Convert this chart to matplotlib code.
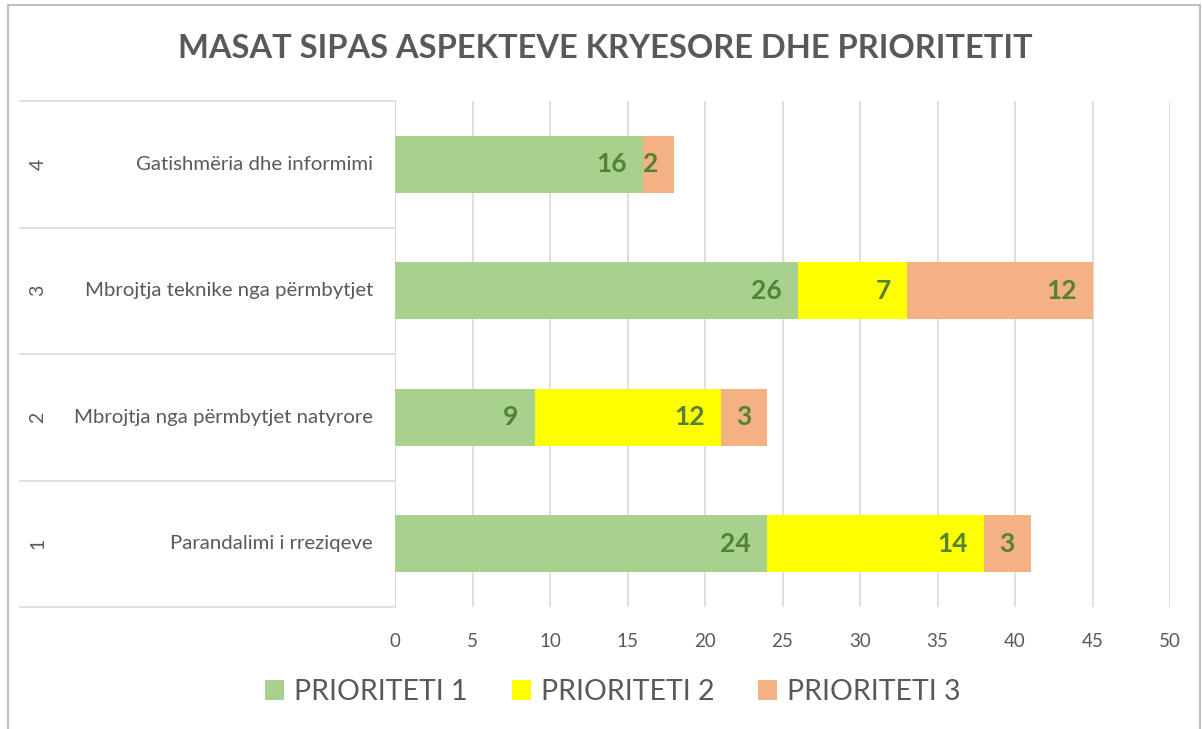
import matplotlib.pyplot as plt
import matplotlib.transforms as mtransforms
from matplotlib.patches import Rectangle, Patch

plt.rcParams['font.family'] = ['Lato', 'DejaVu Sans']

# datos del grafico
grupos = ["1", "2", "3", "4"]
aspektet = ["Parandalimi i rreziqeve", "Mbrojtja nga përmbytjet natyrore",
            "Mbrojtja teknike nga përmbytjet", "Gatishmëria dhe informimi"]
prioriteti_1 = [24, 9, 26, 16]
prioriteti_2 = [14, 12, 7, 0]
prioriteti_3 = [3, 3, 12, 2]
serite = ["PRIORITETI 1", "PRIORITETI 2", "PRIORITETI 3"]
ngjyrat = ["#A9D18E", "#FFFF00", "#F4B183"]
x_ticks = [0, 5, 10, 15, 20, 25, 30, 35, 40, 45, 50]

GRIS = "#595959"
LINEA = "#D9D9D9"
W, H = 1202, 729

fig = plt.figure(figsize=(W / 100, H / 100), dpi=100)
ax = fig.add_axes([395 / W, 1 - 607 / H, (1170 - 395) / W, (607 - 101) / H])

pos = list(range(len(grupos)))
izq = [0] * len(pos)
for vals, color, nombre in zip([prioriteti_1, prioriteti_2, prioriteti_3], ngjyrat, serite):
    ax.barh(pos, vals, left=izq, height=0.45, color=color, label=nombre, zorder=3)
    for i, v in enumerate(vals):
        if v > 0:
            ax.annotate(str(v), xy=(izq[i] + v, pos[i]), xytext=(-11.5, 0),
                        textcoords="offset points", ha="right", va="center",
                        fontsize=19, fontweight="bold", color="#548235", zorder=4)
    izq = [a + b for a, b in zip(izq, vals)]

ax.set_xlim(0, 50)
ax.set_ylim(-0.5, len(pos) - 0.5)
ax.set_xticks(x_ticks)
ax.tick_params(axis="x", length=0, labelsize=13.5, labelcolor=GRIS, pad=19)
ax.set_yticks([])
for s in ax.spines.values():
    s.set_visible(False)
ax.grid(axis="x", color=LINEA, lw=1.2, zorder=0)
ax.axvline(0, color=LINEA, lw=1.2, zorder=1)

# eje de categorias con dos niveles
tr = mtransforms.blended_transform_factory(fig.transFigure, ax.transData)
for b in [p - 0.5 for p in pos] + [pos[-1] + 0.5]:
    ax.plot([20 / W, 395 / W], [b, b], transform=tr, color=LINEA, lw=1.2, clip_on=False)
for i, (g, a) in enumerate(zip(grupos, aspektet)):
    ax.text(38 / W, pos[i], g, transform=tr, rotation=90, ha="center", va="center",
            fontsize=14, color=GRIS)
    ax.text(373 / W, pos[i], a, transform=tr, ha="right", va="center",
            fontsize=14.7, color=GRIS)

fig.text(605 / W, 1 - 48 / H, "MASAT SIPAS ASPEKTEVE KRYESORE DHE PRIORITETIT",
         ha="center", va="center", fontsize=23.5, fontweight="bold", color=GRIS)

handles = [Patch(facecolor=c) for c in ngjyrat]
fig.legend(handles, serite, loc="center", bbox_to_anchor=(613 / W, 1 - 692 / H), ncol=3,
           frameon=False, fontsize=20.5, labelcolor=GRIS, handlelength=0.67,
           handleheight=0.67, handletextpad=0.35, columnspacing=1.55)

# borde del area del grafico
fig.patches.append(Rectangle((8 / W, -0.01), (1200 - 8) / W, 1.01 - 5 / H,
                             transform=fig.transFigure, fill=False,
                             edgecolor="#BFBFBF", lw=1.5))

fig.savefig("out.png", dpi=100)
